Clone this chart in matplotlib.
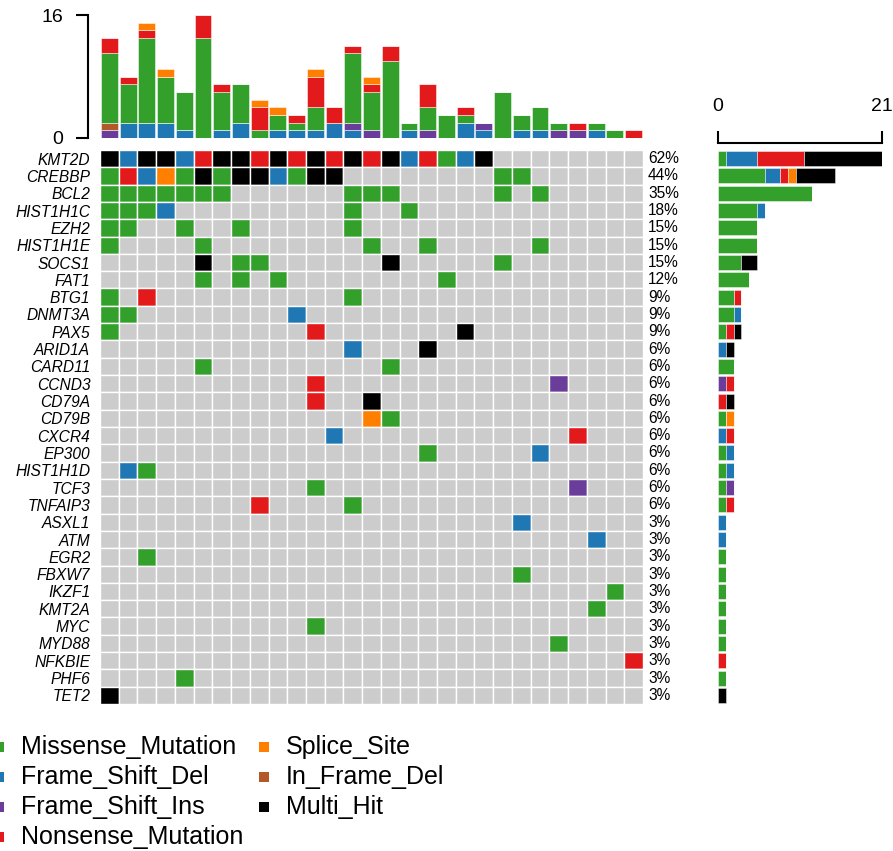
import matplotlib
matplotlib.use("Agg")
import matplotlib.pyplot as plt
import numpy as np

plt.rcParams['font.family'] = ['Liberation Sans', 'DejaVu Sans']

# variant classes, one-letter codes used in the matrix rows, colours
classes = ["Missense_Mutation", "Frame_Shift_Del", "Frame_Shift_Ins", "Nonsense_Mutation",
           "Splice_Site", "In_Frame_Del", "Multi_Hit"]
codes = ["M", "D", "I", "N", "S", "F", "H"]
colors = ["#33A02C", "#1F78B4", "#6A3D9A", "#E31A1C", "#FF7F00", "#B15928", "#000000"]

n_samples = 34   # cohort size used for the percentages
n_cols = 29      # samples shown (mutated ones)

genes = ["KMT2D", "CREBBP", "BCL2", "HIST1H1C", "EZH2", "HIST1H1E", "SOCS1", "FAT1",
         "BTG1", "DNMT3A", "PAX5", "ARID1A", "CARD11", "CCND3", "CD79A", "CD79B",
         "CXCR4", "EP300", "HIST1H1D", "TCF3", "TNFAIP3", "ASXL1", "ATM", "EGR2",
         "FBXW7", "IKZF1", "KMT2A", "MYC", "MYD88", "NFKBIE", "PHF6", "TET2"]

# one string per gene, one character per sample ('.' = no mutation)
rows = [
    "HDHHDNHHNHNHNHNHDNMDH",
    "MNDSMHMHHDMHH........MM",
    "MMMMMMM......MMM.....M.M",
    "MMMD.........M..M",
    "MM..M..M.....M",
    "M....M........M..M.....M",
    ".....H.MM......H.....M",
    ".....M.M.M........M",
    "M.N..........M",
    "MM........D",
    "M..........N.......H",
    ".............D...H",
    ".....M.........M",
    "...........N............I",
    "...........N..H",
    "..............SM",
    "............D............N",
    ".................M.....D",
    ".DM",
    "...........M.............I",
    "........N....M",
    "......................D",
    "..........................D",
    "..M",
    "......................M",
    "...........................M",
    "..........................M",
    "...........M",
    "........................M",
    "............................N",
    "....M",
    "H",
]
rows = [r.ljust(n_cols, ".") for r in rows]

# per-sample variant counts for the top barplot
tmb_del = [0, 2, 2, 2, 1, 0, 1, 2, 0, 1, 1, 1, 2, 1, 0, 0, 1, 0, 0, 2, 1, 0, 1, 1, 0, 0, 1, 0, 0]
tmb_ins = [1, 0, 0, 0, 0, 0, 0, 0, 0, 0, 0, 0, 0, 1, 1, 0, 0, 1, 0, 0, 1, 0, 0, 0, 1, 1, 0, 0, 0]
tmb_ifd = [1, 0, 0, 0, 0, 0, 0, 0, 0, 0, 0, 0, 0, 0, 0, 0, 0, 0, 0, 0, 0, 0, 0, 0, 0, 0, 0, 0, 0]
tmb_mis = [9, 5, 11, 6, 5, 13, 5, 5, 1, 2, 1, 3, 0, 9, 5, 10, 1, 3, 3, 1, 0, 6, 2, 3, 1, 0, 1, 1, 0]
tmb_non = [2, 1, 1, 0, 0, 3, 1, 0, 3, 0, 1, 4, 2, 1, 1, 2, 0, 3, 0, 1, 0, 0, 0, 0, 0, 1, 0, 0, 1]
tmb_spl = [0, 0, 1, 1, 0, 0, 0, 0, 1, 1, 0, 1, 0, 0, 1, 0, 0, 0, 0, 0, 0, 0, 0, 0, 0, 0, 0, 0, 0]

W, H = 893, 851
fig = plt.figure(figsize=(W / 100, H / 100), dpi=100)


def px_axes(x0, y0, x1, y1):
    """ axes from pixel box (top-left origin) """
    return fig.add_axes([x0 / W, 1 - y1 / H, (x1 - x0) / W, (y1 - y0) / H])


grid_l, grid_r, grid_t, grid_b = 100, 643, 150, 704
cmap = dict(zip(codes, colors))

# main oncoprint matrix
ax = px_axes(grid_l, grid_t, grid_r, grid_b)
x = np.arange(n_cols)
for i, r in enumerate(rows):
    cell_colors = [cmap.get(ch, "#CCCCCC") for ch in r]
    ax.barh(i, 1, left=x - 0.5, height=1, color=cell_colors, edgecolor="white", linewidth=1.0)
ax.set_xlim(-0.5, n_cols - 0.5)
ax.set_ylim(len(genes) - 0.5, -0.5)
ax.set_xticks([])
ax.set_yticks(range(len(genes)))
ax.set_yticklabels(genes, fontstyle="italic", fontsize=11.2)
ax.tick_params(axis="y", length=0, pad=7)
for s in ax.spines.values():
    s.set_visible(False)

counts = [sum(ch != "." for ch in r) for r in rows]
for i, n in enumerate(counts):
    ax.text(1 + 5 / (grid_r - grid_l), i, f"{round(n / n_samples * 100)}%",
            transform=ax.get_yaxis_transform(), va="center", ha="left", fontsize=11.2)

# top barplot
axt = px_axes(grid_l, 15, grid_r, 138)
bottom = np.zeros(n_cols)
top_series = [(tmb_del, "D"), (tmb_ins, "I"), (tmb_ifd, "F"), (tmb_mis, "M"),
              (tmb_non, "N"), (tmb_spl, "S")]
for vals, c in top_series:
    vals = np.array(vals)
    axt.bar(x, vals, bottom=bottom, width=0.9, color=cmap[c],
            edgecolor=(1, 1, 1, 0.5), linewidth=0.7)
    bottom += vals
axt.set_xlim(-0.5, n_cols - 0.5)
axt.set_ylim(0, 16)
axt.set_xticks([])
axt.set_yticks([0, 16])
axt.tick_params(axis="y", length=9, width=1.5, pad=9, labelsize=14)
for side in ["top", "right", "bottom"]:
    axt.spines[side].set_visible(False)
axt.spines["left"].set_position(("outward", 8.6))
axt.spines["left"].set_linewidth(1.5)

# side barplot
axs = px_axes(718, grid_t, 882, grid_b)
left = np.zeros(len(genes))
for c, col in zip(codes, colors):
    vals = np.array([r.count(c) for r in rows])
    axs.barh(range(len(genes)), vals, left=left, height=0.87, color=col,
             edgecolor=(1, 1, 1, 0.5), linewidth=0.6)
    left += vals
axs.set_xlim(0, 21)
axs.set_ylim(len(genes) - 0.5, -0.5)
axs.set_yticks([])
axs.xaxis.set_ticks_position("top")
axs.set_xticks([0, 21])
axs.tick_params(axis="x", length=9, width=1.5, pad=11, labelsize=14)
for side in ["bottom", "right", "left"]:
    axs.spines[side].set_visible(False)
axs.spines["top"].set_position(("outward", 5.3))
axs.spines["top"].set_linewidth(1.5)

# legend
axl = fig.add_axes([0, 0, 1, 1])
axl.set_xlim(0, W)
axl.set_ylim(H, 0)
axl.axis("off")
leg_x = [-1, 264]
leg_y = [747, 777, 807, 837]
for k, (name, col) in enumerate(zip(classes, colors)):
    cx = leg_x[0] if k < 4 else leg_x[1]
    cy = leg_y[k % 4]
    axl.scatter([cx], [cy], marker="s", s=42, color=col, linewidths=0)
    axl.text(cx + 22, cy, name, fontsize=18, va="center", ha="left")

fig.savefig("out.png", dpi=100)
